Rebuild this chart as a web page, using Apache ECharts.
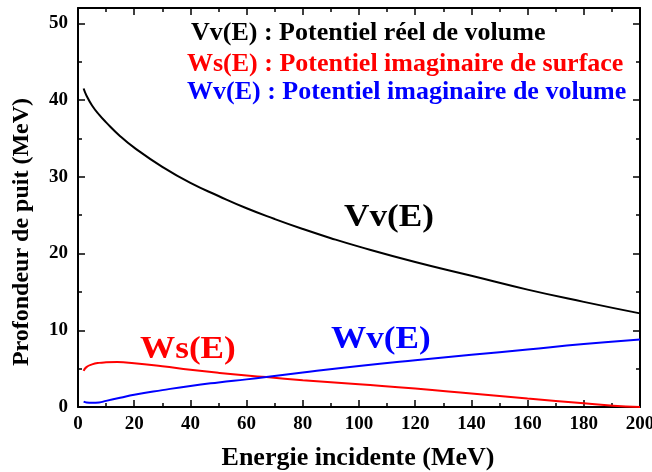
<!DOCTYPE html>
<html><head><meta charset="utf-8">
<script src="https://cdn.jsdelivr.net/npm/echarts@6/dist/echarts.min.js"></script>
<style>html,body{margin:0;padding:0;background:#fff;overflow:hidden}#c{width:652px;height:472px}</style>
</head><body><div id="c"></div>
<script>
const vvE = [2,3,5,7.5,10,15,20,30,40,50,60,70,80,90,100,120,140,160,180,200];
const vvVal = [41.5,40.6,39.3,38.1,37.1,35.3,33.8,31.3,29.2,27.5,25.9,24.5,23.2,22.0,20.9,18.9,17.1,15.3,13.7,12.2];
const wsE = [2,3,5,7.5,10,14,20,30,40,50,60,67,80,100,120,140,160,180,195,200];
const wsVal = [4.7,5.2,5.55,5.75,5.82,5.85,5.7,5.3,4.85,4.45,4.1,3.9,3.5,2.95,2.4,1.75,1.1,0.5,0.05,0];
const wvE = [2,3,5,7.5,10,15,20,30,40,50,60,67,80,100,120,140,160,180,200];
const wvVal = [0.7,0.6,0.55,0.6,0.8,1.2,1.6,2.2,2.75,3.2,3.6,3.9,4.5,5.35,6.1,6.8,7.5,8.2,8.8];
const xTicks = [0,20,40,60,80,100,120,140,160,180,200];
const yTicks = [0,10,20,30,40,50];

const F = 'Liberation Serif';
const zip = (a,b)=>a.map((v,i)=>[v,b[i]]);
const chart = echarts.init(document.getElementById('c'));
const axisLine = {show:true, onZero:false, lineStyle:{color:'#000', width:2}};
const tick = {show:true, inside:true, length:7, lineStyle:{color:'#000', width:1.5}};
const minor = {show:true, splitNumber:2, length:4, lineStyle:{color:'#000', width:1.5}};
chart.setOption({
  animation:false,
  grid:{left:78, right:12, top:8, bottom:65, containLabel:false, outerBoundsMode:'none'},
  xAxis:[{
    type:'value', min:0, max:200, interval:20, position:'bottom',
    axisLine, axisTick:tick, minorTick:minor, splitLine:{show:false},
    axisLabel:{color:'#000', fontFamily:F, fontWeight:'bold', fontSize:19, margin:8,
      formatter:v=>xTicks.includes(v)?String(v):''}
  },{
    type:'value', min:0, max:200, interval:20, position:'top',
    axisLine, axisTick:tick, minorTick:minor, splitLine:{show:false}, axisLabel:{show:false}
  }],
  yAxis:[{
    type:'value', min:0, max:52, interval:10, position:'left',
    axisLine, axisTick:tick, minorTick:minor, splitLine:{show:false},
    axisLabel:{color:'#000', fontFamily:F, fontWeight:'bold', fontSize:19, margin:10,
      formatter:v=>yTicks.includes(v)?String(v):''}
  },{
    type:'value', min:0, max:52, interval:10, position:'right',
    axisLine, axisTick:tick, minorTick:minor, splitLine:{show:false}, axisLabel:{show:false}
  }],
  series:[
    {type:'line', name:'Vv(E)', data:zip(vvE,vvVal), smooth:true, showSymbol:false, lineStyle:{color:'#000', width:2}},
    {type:'line', name:'Ws(E)', data:zip(wsE,wsVal), smooth:true, showSymbol:false, lineStyle:{color:'#ff0000', width:2}},
    {type:'line', name:'Wv(E)', data:zip(wvE,wvVal), smooth:true, showSymbol:false, lineStyle:{color:'#0000ff', width:2}}
  ],
  graphic:[
    {type:'text', x:191, y:33, style:{text:'Vv(E) : Potentiel réel de volume', fill:'#000', font:'bold 26px "Liberation Serif"', verticalAlign:'middle'}},
    {type:'text', x:187, y:64, style:{text:'Ws(E) : Potentiel imaginaire de surface', fill:'#ff0000', font:'bold 26px "Liberation Serif"', verticalAlign:'middle'}},
    {type:'text', x:187, y:92, style:{text:'Wv(E) : Potentiel imaginaire de volume', fill:'#0000ff', font:'bold 26px "Liberation Serif"', verticalAlign:'middle'}},
    {type:'text', x:344, y:218, scaleX:1.1, style:{text:'Vv(E)', fill:'#000', font:'bold 32px "Liberation Serif"', verticalAlign:'middle'}},
    {type:'text', x:140, y:350, scaleX:1.1, style:{text:'Ws(E)', fill:'#ff0000', font:'bold 32px "Liberation Serif"', verticalAlign:'middle'}},
    {type:'text', x:331, y:340, scaleX:1.1, style:{text:'Wv(E)', fill:'#0000ff', font:'bold 32px "Liberation Serif"', verticalAlign:'middle'}},
    {type:'text', x:22, y:232, rotation:Math.PI/2, style:{text:'Profondeur de puit (MeV)', fill:'#000', font:'bold 24px "Liberation Serif"', align:'center', verticalAlign:'middle'}},
    {type:'text', x:358, y:458, style:{text:'Energie incidente (MeV)', fill:'#000', font:'bold 26px "Liberation Serif"', align:'center', verticalAlign:'middle'}}
  ]
});
</script></body></html>
